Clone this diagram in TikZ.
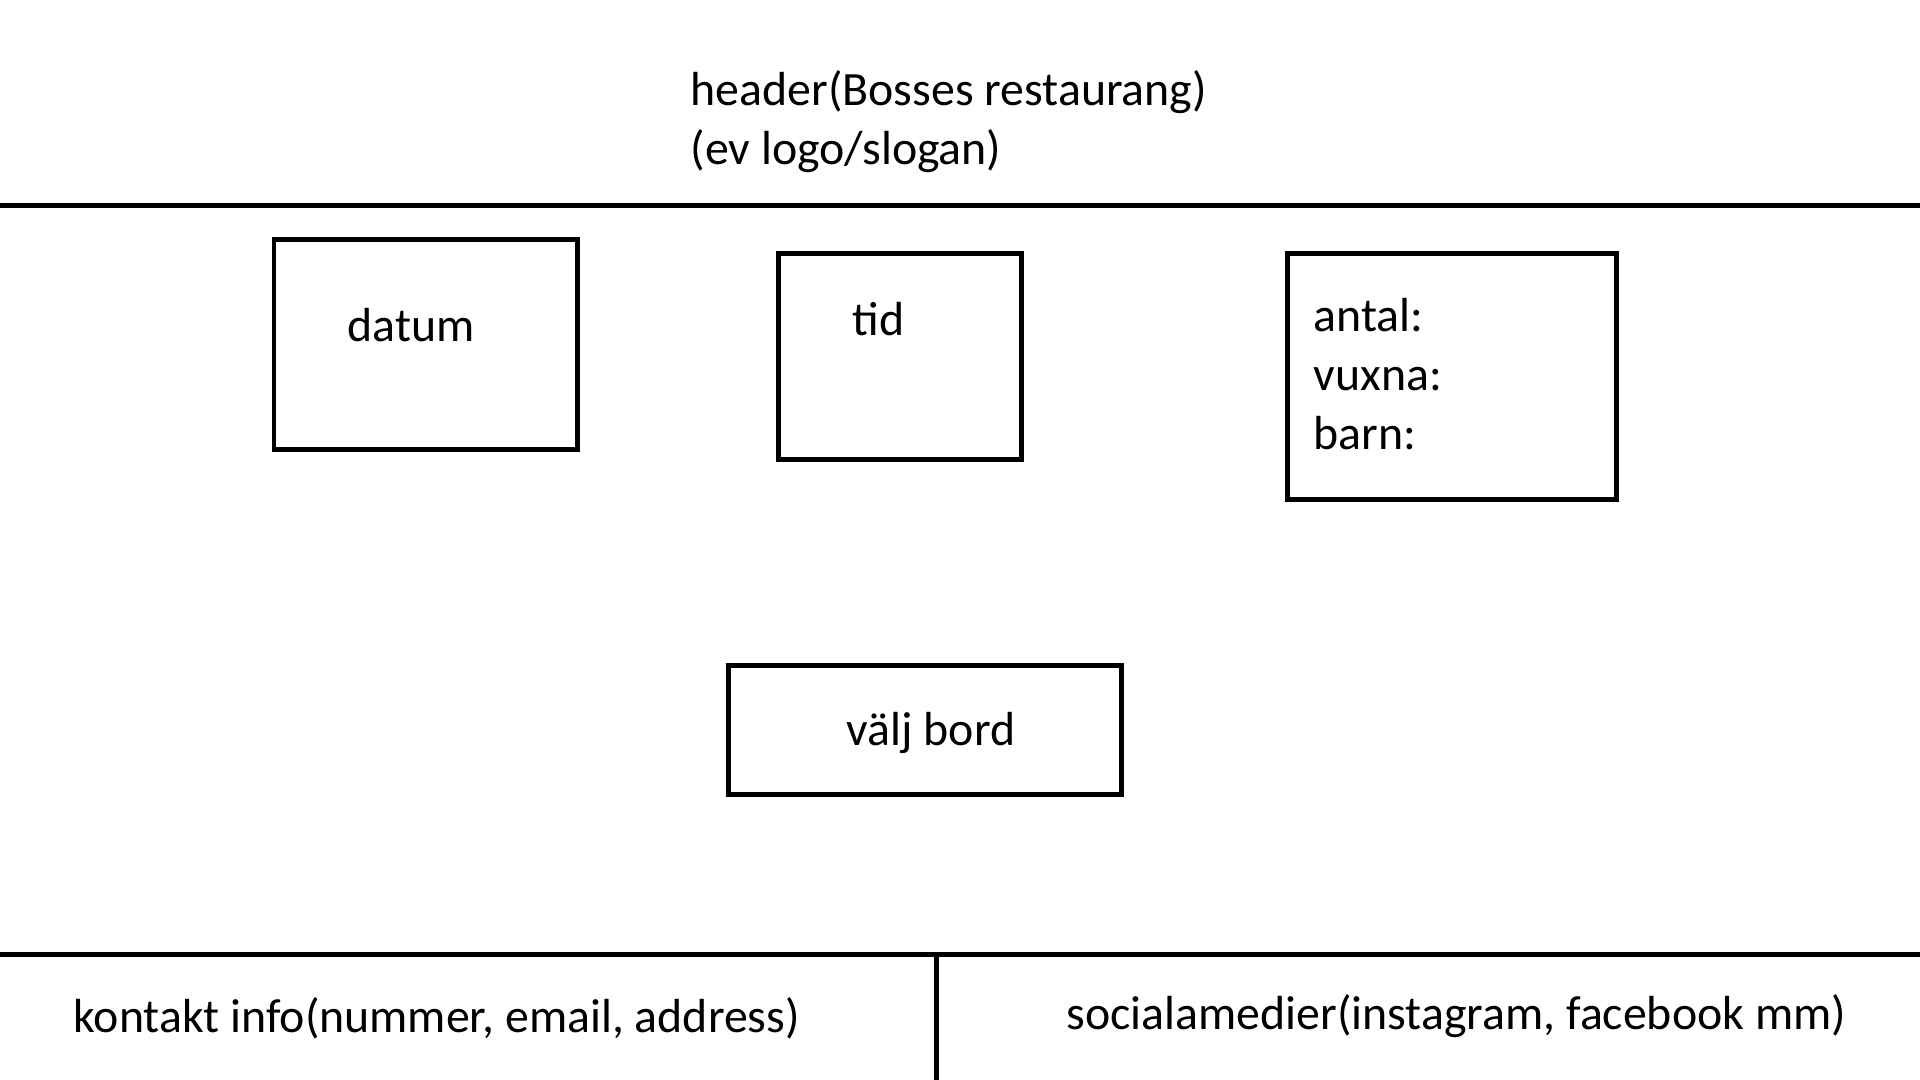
\documentclass[tikz,border=0pt]{standalone}
\usepackage{fontspec}
\setmainfont{Carlito}
\tikzset{
    wire/.style={line width=1.42pt},
    lbl/.style={inner sep=0pt,anchor=base west,font=\fontsize{13.6}{16.5}\selectfont}
}

\begin{document}
\begin{tikzpicture}[x=0.01cm,y=-0.01cm]
\useasboundingbox (0,0) rectangle (1920,1080);
\coordinate (hl) at (0,205.5); \coordinate (hr) at (1920,205.5);
\coordinate (fl) at (0,954.5); \coordinate (fr) at (1920,954.5);
\coordinate (fm) at (936,954.5); \coordinate (fb) at (936,1080);
\draw[wire] (hl) -- (hr);
\draw[wire] (fl) -- (fr);
\draw[wire] (fm) -- (fb);
% boxes
\coordinate (d1) at (274,240); \coordinate (d2) at (577,450);
\coordinate (t1) at (778,254); \coordinate (t2) at (1021,460);
\coordinate (a1) at (1287,254); \coordinate (a2) at (1616,500);
\coordinate (v1) at (728,666); \coordinate (v2) at (1121,795);
\draw[wire] (d1) rectangle (d2);
\draw[wire] (t1) rectangle (t2);
\draw[wire] (a1) rectangle (a2);
\draw[wire] (v1) rectangle (v2);
% texts
\node[lbl] (head) at (690,106) {header(Bosses restaurang)};
\node[lbl] (slogan) at (690,165) {(ev logo/slogan)};
\node[lbl] (datum) at (347,342) {datum};
\node[lbl] (tid) at (852,336) {tid};
\node[lbl] (antal) at (1313,332) {antal:};
\node[lbl] (vuxna) at (1313,391) {vuxna:};
\node[lbl] (barn) at (1313,450) {barn:};
\node[lbl] (valj) at (846,746) {välj bord};
\node[lbl] (kontakt) at (73,1033) {kontakt info(nummer, email, address)};
\node[lbl] (social) at (1066,1030) {socialamedier(instagram, facebook mm)};
\end{tikzpicture}
\end{document}
